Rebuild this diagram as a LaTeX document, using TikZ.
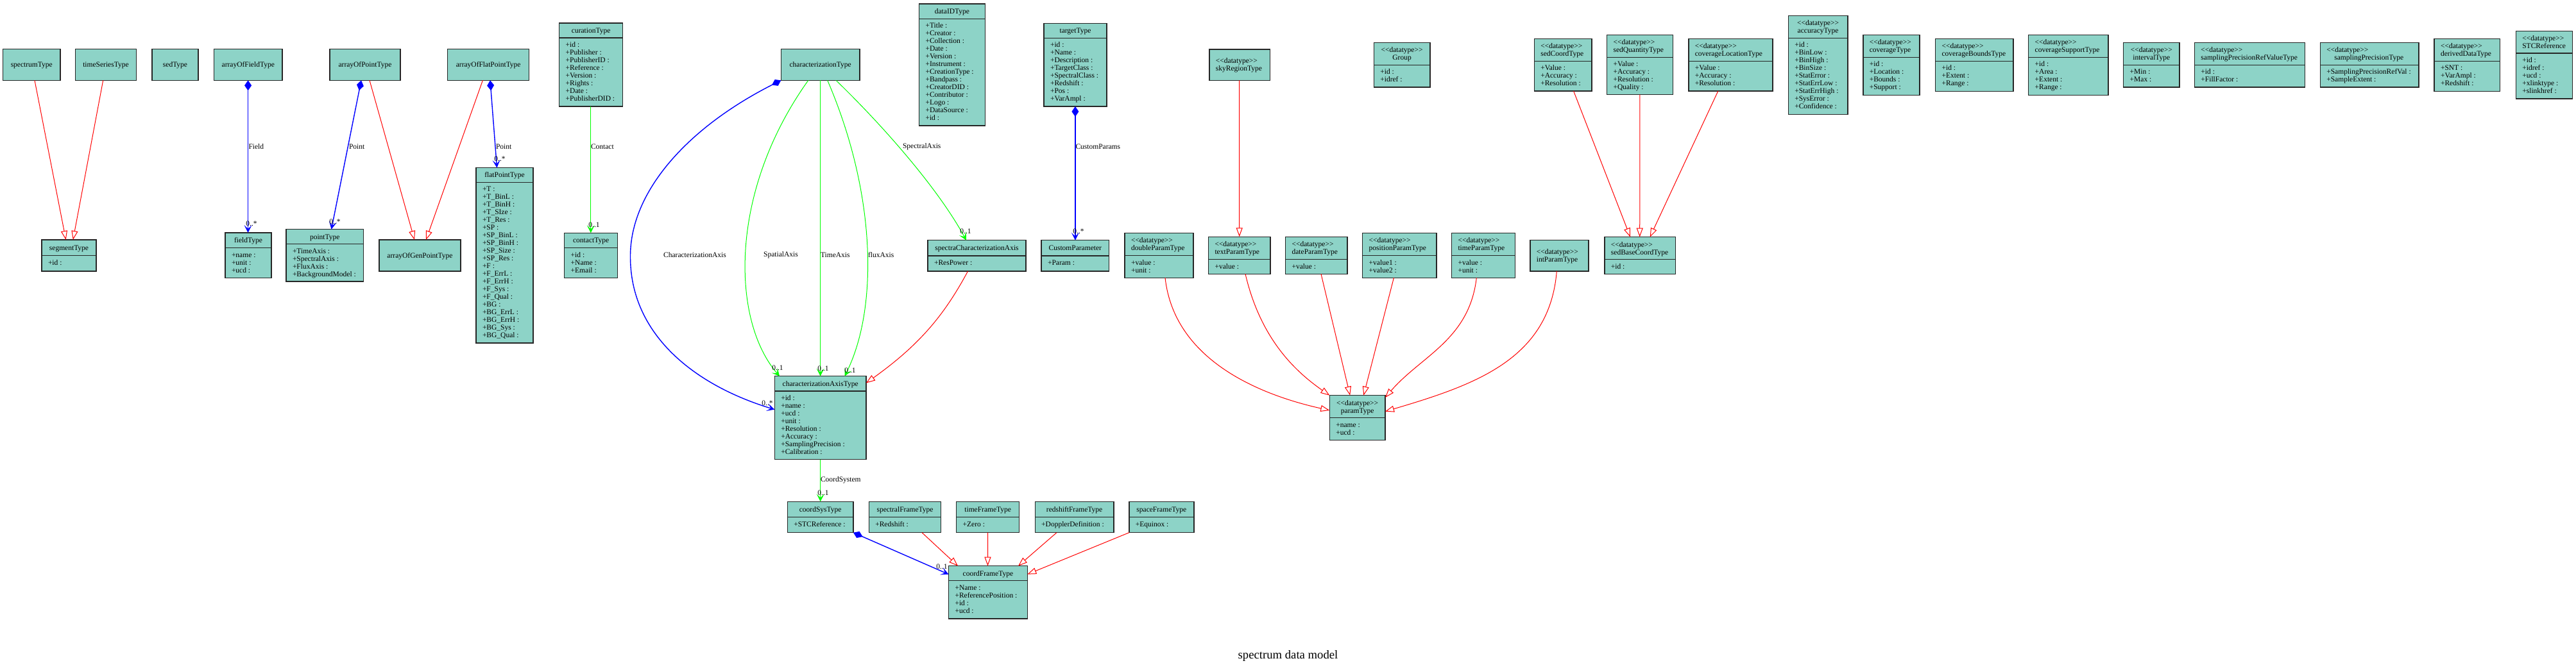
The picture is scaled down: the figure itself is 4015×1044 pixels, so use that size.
\documentclass[tikz,border=0pt]{standalone}
\usepackage{fontspec}
\setmainfont{Liberation Serif}
\usetikzlibrary{arrows.meta,calc}
\definecolor{clsfill}{HTML}{8DD3C7}
\newcommand{\dt}{<\kern0pt<datatype>\kern0pt>}
\tikzset{
  cls/.style={draw=black!85, line width=0.7pt, fill=clsfill, inner sep=0pt, outer sep=0pt},
  clsline/.style={draw=black!85, line width=0.7pt},
  txt/.style={font=\fontsize{5.75}{6.9}\selectfont, inner sep=0pt, outer sep=0pt},
  gen/.style={draw=red, line width=0.5pt, arrows={-Triangle[open,length=7pt,width=5pt]}},
  comp/.style={draw=blue, line width=0.7pt, arrows={Diamond[length=8pt,width=5.5pt]-Stealth[length=6pt,width=6pt,inset=3pt]}},
  assoc/.style={draw=green, line width=0.5pt, arrows={-Stealth[length=6pt,width=6pt,inset=3pt]}},
}
% name, x1, y1, x2, y2, ydiv, align (l/c), header lines, attribute lines
\newcommand{\Ucls}[9]{%
  \pgfmathsetmacro\Uw{(#4-#2)*0.5}%
  \pgfmathsetmacro\Uh{(#5-#3)*0.5}%
  \node[cls, minimum width=\Uw pt, minimum height=\Uh pt, anchor=north west] (#1) at (#2,#3) {};%
  \ifdim #6pt<#5pt \draw[clsline] (#2,#6) -- (#4,#6);\fi
  \foreach \Ua [count=\Ui] in {#8} {\xdef\Un{\Ui}}%
  \foreach \Ua [count=\Ui] in {#8} {%
    \pgfmathsetmacro\Uy{(#3+#6)/2 - (\Un-1)*6 + 12*(\Ui-1) + 3.8}%
    \if#7l\node[txt, anchor=base west] (#1-h\Ui) at (#2+10,\Uy) {\Ua};%
    \else\node[txt, anchor=base] (#1-h\Ui) at ({(#2+#4)/2},\Uy) {\Ua};\fi
  }%
  \if\relax\detokenize{#9}\relax\else
  \foreach \Ua [count=\Ui] in {#9} {%
    \pgfmathsetmacro\Uy{#6 + 14.4 + 12*(\Ui-1)}%
    \node[txt, anchor=base west] (#1-a\Ui) at (#2+10,\Uy) {\Ua};%
  }\fi
}
\begin{document}
\begin{tikzpicture}[x=0.5pt,y=-0.5pt]
\fill[white] (0,0) rectangle (4015,1044);
\useasboundingbox (0,0) rectangle (4015,1044);

% ---------- row 1 ----------
\Ucls{spectrumType}{4.5}{76.7}{94}{125.3}{125.3}{c}{spectrumType}{}
\Ucls{timeSeriesType}{117.4}{76.7}{212.5}{125.3}{125.3}{c}{timeSeriesType}{}
\Ucls{sedType}{237}{76.7}{309}{125.3}{125.3}{c}{sedType}{}
\Ucls{arrayOfFieldType}{333.5}{76.7}{440}{125.3}{125.3}{c}{arrayOfFieldType}{}
\Ucls{arrayOfPointType}{514}{76.7}{624}{125.3}{125.3}{c}{arrayOfPointType}{}
\Ucls{arrayOfFlatPointType}{697.7}{76.7}{824.7}{125.3}{125.3}{c}{arrayOfFlatPointType}{}
\Ucls{curationType}{871.7}{36}{970.6}{166}{59}{c}{curationType}{+id :,+Publisher :,+PublisherID :,+Reference :,+Version :,+Rights :,+Date :,+PublisherDID :}
\Ucls{characterizationType}{1217.3}{76.7}{1340}{125.3}{125.3}{c}{characterizationType}{}
\Ucls{dataIDType}{1432.5}{6}{1535.3}{196}{29.3}{c}{dataIDType}{+Title :,+Creator :,+Collection :,+Date :,+Version :,+Instrument :,+CreationType :,+Bandpass :,+CreatorDID :,+Contributor :,+Logo :,+DataSource :,+id :}
\Ucls{targetType}{1627}{36.7}{1724.9}{166}{59.3}{c}{targetType}{+id :,+Name :,+Description :,+TargetClass :,+SpectralClass :,+Redshift :,+Pos :,+VarAmpl :}
\Ucls{skyRegionType}{1884.9}{77}{1979.4}{125.3}{125.3}{l}{\dt,skyRegionType}{}
\Ucls{Group}{2141.3}{66.7}{2228.8}{136}{101.3}{c}{\dt,Group}{+id :,+idref :}
\Ucls{sedCoordType}{2391.3}{60.3}{2480.8}{142}{95.3}{l}{\dt,sedCoordType}{+Value :,+Accuracy :,+Resolution :}
\Ucls{sedQuantityType}{2504.5}{54.3}{2607.3}{147.7}{89.3}{l}{\dt,sedQuantityType}{+Value :,+Accuracy :,+Resolution :,+Quality :}
\Ucls{coverageLocationType}{2631.8}{60.3}{2762.8}{142}{95.3}{l}{\dt,coverageLocationType}{+Value :,+Accuracy :,+Resolution :}
\Ucls{accuracyType}{2787.3}{24.3}{2879.8}{178.3}{59.3}{c}{\dt,accuracyType}{+id :,+BinLow :,+BinHigh :,+BinSize :,+StatError :,+StatErrLow :,+StatErrHigh :,+SysError :,+Confidence :}
\Ucls{coverageType}{2903.8}{54.3}{2992.1}{148.3}{89.3}{l}{\dt,coverageType}{+id :,+Location :,+Bounds :,+Support :}
\Ucls{coverageBoundsType}{3016.6}{60.3}{3138}{142.3}{95.3}{l}{\dt,coverageBoundsType}{+id :,+Extent :,+Range :}
\Ucls{coverageSupportType}{3161.7}{54.3}{3286}{148.3}{89.3}{l}{\dt,coverageSupportType}{+id :,+Area :,+Extent :,+Range :}
\Ucls{intervalType}{3309.7}{66.3}{3396.8}{136}{101.3}{c}{\dt,intervalType}{+Min :,+Max :}
\Ucls{samplingPrecisionRefValueType}{3420.4}{66.3}{3592.6}{136}{101.3}{l}{\dt,samplingPrecisionRefValueType}{+id :,+FillFactor :}
\Ucls{samplingPrecisionType}{3616.3}{66.3}{3769.8}{136}{101.3}{l}{\dt,\hspace*{6pt}samplingPrecisionType}{+SamplingPrecisionRefVal :,+SampleExtent :}
\Ucls{derivedDataType}{3794}{60.3}{3896.6}{142.3}{95.3}{l}{\dt,derivedDataType}{+SNT :,+VarAmpl :,+Redshift :}
\Ucls{STCReference}{3921.3}{48.3}{4009.5}{154}{83}{l}{\dt,STCReference}{+id :,+idref :,+ucd :,+xlinktype :,+slinkhref :}

% ---------- row 2 ----------
\Ucls{segmentType}{65}{374}{150}{423}{398.7}{c}{segmentType}{+id :}
\Ucls{fieldType}{351}{363}{423}{433.3}{386.7}{c}{fieldType}{+name :,+unit :,+ucd :}
\Ucls{pointType}{446}{357.7}{566.5}{439}{380.7}{c}{pointType}{+TimeAxis :,+SpectralAxis :,+FluxAxis :,+BackgroundModel :}
\Ucls{arrayOfGenPointType}{591}{374}{718}{423}{423}{c}{arrayOfGenPointType}{}
\Ucls{flatPointType}{742}{261.7}{831}{535}{284.3}{c}{flatPointType}{+T :,+T\_BinL :,+T\_BinH :,+T\_SIze :,+T\_Res :,+SP :,+SP\_BinL :,+SP\_BinH :,+SP\_Size :,+SP\_Res :,+F :,+F\_ErrL :,+F\_ErrH :,+F\_Sys :,+F\_Qual :,+BG :,+BG\_ErrL :,+BG\_ErrH :,+BG\_Sys :,+BG\_Qual :}
\Ucls{contactType}{879.7}{363.3}{962.5}{433.3}{386.7}{c}{contactType}{+id :,+Name :,+Email :}
\Ucls{spectraCharacterizationAxis}{1446}{374.7}{1599}{423}{398.8}{c}{spectraCharacterizationAxis}{+ResPower :}
\Ucls{CustomParameter}{1623}{374.7}{1728.6}{423}{398.8}{c}{CustomParameter}{+Param :}
\Ucls{doubleParamType}{1753}{363.3}{1859.8}{433.3}{398.7}{l}{\dt,doubleParamType}{+value :,+unit :}
\Ucls{textParamType}{1883.5}{369.3}{1980}{427.3}{404.7}{l}{\dt,textParamType}{+value :}
\Ucls{dateParamType}{2003.6}{369.3}{2100}{427.3}{404.7}{l}{\dt,dateParamType}{+value :}
\Ucls{positionParamType}{2123.7}{363.3}{2238.8}{433.3}{398.7}{l}{\dt,positionParamType}{+value1 :,+value2 :}
\Ucls{timeParamType}{2262.5}{363.3}{2361.2}{433.3}{398.7}{l}{\dt,timeParamType}{+value :,+unit :}
\Ucls{intParamType}{2384.8}{374.3}{2476}{423}{423}{l}{\dt,intParamType}{}
\Ucls{sedBaseCoordType}{2500.9}{369.7}{2611.2}{427.3}{404.7}{l}{\dt,sedBaseCoordType}{+id :}

% ---------- row 3 ----------
\Ucls{charAxisType}{1207.3}{586.7}{1350}{716.7}{610}{c}{characterizationAxisType}{+id :,+name :,+ucd :,+unit :,+Resolution :,+Accuracy :,+SamplingPrecision :,+Calibration :}
\Ucls{paramType}{2072.3}{616.7}{2159}{686.7}{651.7}{c}{\dt,paramType}{+name :,+ucd :}

% ---------- row 4 ----------
\Ucls{coordSysType}{1227.3}{782.3}{1330}{830.7}{806.7}{c}{coordSysType}{+STCReference :}
\Ucls{spectralFrameType}{1354.3}{782.3}{1466.7}{830.7}{806.7}{c}{spectralFrameType}{+Redshift :}
\Ucls{timeFrameType}{1490.7}{782.3}{1588.7}{830.7}{806.7}{c}{timeFrameType}{+Zero :}
\Ucls{redshiftFrameType}{1613.2}{782.3}{1736}{830.7}{806.7}{c}{redshiftFrameType}{+DopplerDefinition :}
\Ucls{spaceFrameType}{1759.8}{782.3}{1860.8}{830.7}{806.7}{c}{spaceFrameType}{+Equinox :}
\Ucls{coordFrameType}{1478.5}{882.7}{1601.3}{965}{905.7}{c}{coordFrameType}{+Name :,+ReferencePosition :,+id :,+ucd :}

% ---------- generalizations ----------
\draw[gen] ($(spectrumType.south west)+(49.5,0)$) -- ($(segmentType.north west)+(37.7,0)$);
\draw[gen] ($(timeSeriesType.south west)+(43.3,0)$) -- ($(segmentType.north west)+(48.8,0)$);
\draw[gen] ($(arrayOfPointType.south west)+(62,0)$) -- ($(arrayOfGenPointType.north west)+(55,0)$);
\draw[gen] ($(arrayOfFlatPointType.south west)+(54.7,0)$) -- ($(arrayOfGenPointType.north west)+(73,0)$);
\draw[gen] ($(spectraCharacterizationAxis.south west)+(62.5,0)$) .. controls (1470,495) and (1430,540) .. ($(charAxisType.north east)+(0,10.7)$);
\draw[gen] ($(skyRegionType.south west)+(46.7,0)$) -- ($(textParamType.north west)+(48.2,0)$);
\draw[gen] ($(sedCoordType.south west)+(61.3,0)$) -- ($(sedBaseCoordType.north west)+(40.1,0)$);
\draw[gen] ($(sedQuantityType.south west)+(51.4,0)$) -- ($(sedBaseCoordType.north west)+(54.8,0)$);
\draw[gen] ($(coverageLocationType.south west)+(46,0)$) -- ($(sedBaseCoordType.north west)+(70.8,0)$);
\draw[gen] ($(doubleParamType.south west)+(63,0)$) .. controls (1830,560) and (1960,615) .. ($(paramType.north west)+(0,23.3)$);
\draw[gen] ($(textParamType.south west)+(57.5,0)$) .. controls (1965,530) and (2020,580) .. (paramType.north west);
\draw[gen] ($(dateParamType.south west)+(55.4,0)$) -- ($(paramType.north west)+(31.9,0)$);
\draw[gen] ($(positionParamType.south west)+(48.7,0)$) -- ($(paramType.north west)+(53,0)$);
\draw[gen] ($(timeParamType.south west)+(38.8,0)$) .. controls (2290,530) and (2215,555) .. ($(paramType.north east)+(0,3.3)$);
\draw[gen] ($(intParamType.south west)+(41.5,0)$) .. controls (2415,560) and (2300,600) .. ($(paramType.north east)+(0,25)$);
\draw[gen] ($(spectralFrameType.south west)+(82.7,0)$) -- ($(coordFrameType.north west)+(14.5,0)$);
\draw[gen] ($(timeFrameType.south west)+(48.8,0)$) -- ($(coordFrameType.north west)+(61,0)$);
\draw[gen] ($(redshiftFrameType.south west)+(33.7,0)$) -- ($(coordFrameType.north west)+(108.5,0)$);
\draw[gen] (spaceFrameType.south west) -- ($(coordFrameType.north east)+(0,13)$);

% ---------- compositions ----------
\draw[comp] ($(arrayOfFieldType.south west)+(53.1,0)$) -- ($(fieldType.north west)+(35.6,0)$);
\draw[comp] ($(arrayOfPointType.south west)+(49,0)$) -- ($(pointType.north west)+(70.5,0)$);
\draw[comp] ($(arrayOfFlatPointType.south west)+(66.3,0)$) -- ($(flatPointType.north west)+(32.5,0)$);
\draw[comp] (characterizationType.south west) .. controls (1070,200) and (982,300) .. (982.5,400) .. controls (982,520) and (1080,600) .. ($(charAxisType.north west)+(0,52)$);
\draw[comp] ($(targetType.south west)+(48.9,0)$) -- ($(CustomParameter.north west)+(52.9,0)$);
\draw[comp] (coordSysType.south east) -- ($(coordFrameType.north west)+(0,13)$);

% ---------- associations ----------
\draw[assoc] ($(curationType.south west)+(49.1,0)$) -- ($(contactType.north west)+(41.1,0)$);
\draw[assoc] ($(characterizationType.south west)+(42.5,0)$) .. controls (1135,300) and (1140,500) .. ($(charAxisType.north west)+(7.7,0)$);
\draw[assoc] ($(characterizationType.south west)+(61.3,0)$) -- ($(charAxisType.north west)+(71.3,0)$);
\draw[assoc] ($(characterizationType.south west)+(72.4,0)$) .. controls (1365,300) and (1370,480) .. ($(charAxisType.north west)+(109.2,0)$);
\draw[assoc] ($(characterizationType.south west)+(85.7,0)$) .. controls (1370,190) and (1460,290) .. ($(spectraCharacterizationAxis.north west)+(60,0)$);
\draw[assoc] ($(charAxisType.south west)+(71.4,0)$) -- ($(coordSysType.north west)+(51.4,0)$);

% ---------- edge labels ----------
\node[txt, anchor=west] (lField) at (387.5,229) {Field};
\node[txt, anchor=west] (lPoint1) at (544,229) {Point};
\node[txt, anchor=west] (lPoint2) at (773,229) {Point};
\node[txt, anchor=west] (lContact) at (921,229) {Contact};
\node[txt, anchor=west] (lSpectral) at (1407,229) {SpectralAxis};
\node[txt, anchor=west] (lCustom) at (1676.5,229) {CustomParams};
\node[txt] (lCharAxis) at (1083,397.7) {CharacterizationAxis};
\node[txt] (lSpatial) at (1217,397.6) {SpatialAxis};
\node[txt, anchor=west] (lTime) at (1279,397.6) {TimeAxis};
\node[txt, anchor=west] (lFlux) at (1353,397.6) {fluxAxis};
\node[txt, anchor=west] (lCoord) at (1279,749) {CoordSystem};

% ---------- multiplicities ----------
\node[txt] (m1) at (392,349) {0..*};
\node[txt] (m2) at (522,345.7) {0..*};
\node[txt] (m3) at (779,247.7) {0..*};
\node[txt] (m4) at (926,350.7) {0..1};
\node[txt] (m5) at (1212,573.7) {0..1};
\node[txt] (m6) at (1283,575) {0..1};
\node[txt] (m7) at (1325,577.5) {0..1};
\node[txt] (m8) at (1505,360.5) {0..1};
\node[txt] (m9) at (1681,360.5) {0..*};
\node[txt] (m10) at (1196,629) {0..*};
\node[txt] (m11) at (1283,769) {0..1};
\node[txt] (m12) at (1468,883.3) {0..1};

% ---------- title ----------
\node[inner sep=0pt, font=\fontsize{9.35}{11}\selectfont] (title) at (2007.5,1022.7) {spectrum data model};
\end{tikzpicture}
\end{document}
